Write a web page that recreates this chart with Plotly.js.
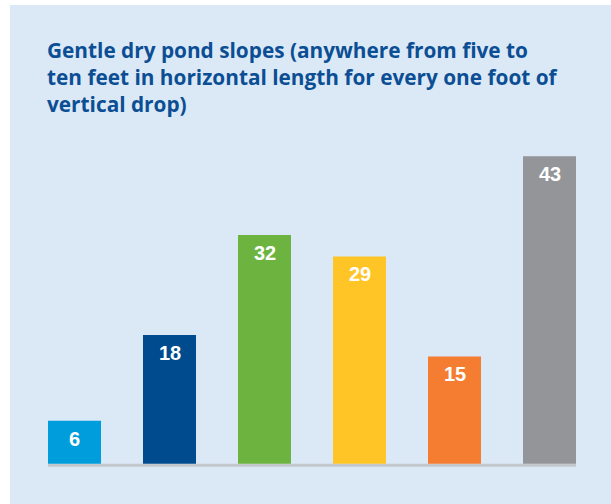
<!DOCTYPE html>
<html>
<head>
<meta charset="utf-8">
<script src="https://cdn.plot.ly/plotly-3.0.1.min.js"></script>
<style>
html,body{margin:0;padding:0;background:#ffffff;}
#chart{position:absolute;left:10px;top:5px;width:601px;height:499px;}
</style>
</head>
<body>
<div id="chart"></div>
<script>
const categories = ["A","B","C","D","E","F"];
const values = [6, 18, 32, 29, 15, 43];
const barColors = ["#009ddc","#004b8d","#6db33f","#ffc425","#f47d32","#939598"];
const titleText = "Gentle dry pond slopes (anywhere from five to<br>ten feet in horizontal length for every one foot of<br>vertical drop)";

const trace = {
  type: "bar",
  x: categories,
  y: values,
  marker: {color: barColors, line: {width: 0}},
  hoverinfo: "none"
};

const annotations = categories.map((c, i) => ({
  x: c, y: values[i], xref: "x", yref: "y",
  text: String(values[i]),
  showarrow: false,
  yanchor: "top",
  yshift: -5,
  font: {family: "Liberation Sans, Arial, sans-serif", size: 20, color: "#ffffff", weight: "bold"}
}));

const layout = {
  width: 601, height: 499,
  paper_bgcolor: "#dbe9f7",
  plot_bgcolor: "rgba(0,0,0,0)",
  margin: {l: 17, r: 14, t: 137, b: 26, pad: 0},
  showlegend: false,
  bargap: 0.442,
  title: {
    text: titleText,
    x: 0, xref: "paper", xanchor: "left",
    y: 1, yref: "container", yanchor: "top",
    pad: {l: 20, t: 53},
    font: {family: "Open Sans, Liberation Sans, Arial, sans-serif", size: 20.8, color: "#0b4e94", weight: "bold"}
  },
  xaxis: {range: [-0.5, 5.5], showticklabels: false, showgrid: false, zeroline: false, showline: false, ticks: "", fixedrange: true},
  yaxis: {range: [-2, 45], showticklabels: false, showgrid: false, zeroline: false, showline: false, ticks: "", fixedrange: true},
  shapes: [{
    type: "rect", xref: "x", yref: "y",
    x0: -0.279, x1: 5.279, y0: -0.42, y1: 0,
    fillcolor: "#c3c7cc", line: {width: 0}, layer: "below"
  }],
  annotations: annotations
};

Plotly.newPlot("chart", [trace], layout, {displayModeBar: false, staticPlot: true});
</script>
</body>
</html>
